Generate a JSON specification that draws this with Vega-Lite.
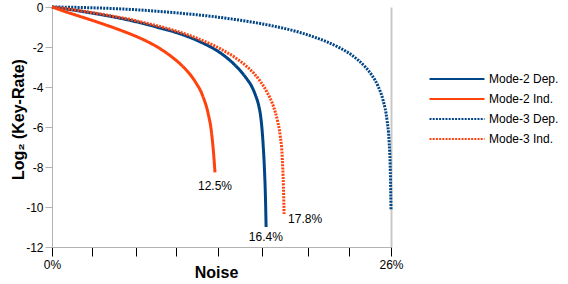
{
  "$schema": "https://vega.github.io/schema/vega-lite/v6.json",
  "width": 339,
  "height": 240,
  "autosize": {"type": "none"},
  "padding": {"left": 52, "top": 7, "right": 177, "bottom": 37},
  "background": "white",
  "config": {
    "font": "Liberation Sans",
    "view": {"stroke": null},
    "axis": {"labelFont": "Liberation Sans", "titleFont": "Liberation Sans"}
  },
  "datasets": {
    "curves": [
      {"series": "Mode-2 Dep.", "x": 0, "y": 0},
      {"series": "Mode-2 Dep.", "x": 2, "y": -0.19},
      {"series": "Mode-2 Dep.", "x": 4, "y": -0.41},
      {"series": "Mode-2 Dep.", "x": 6, "y": -0.67},
      {"series": "Mode-2 Dep.", "x": 8, "y": -1.0},
      {"series": "Mode-2 Dep.", "x": 10, "y": -1.38},
      {"series": "Mode-2 Dep.", "x": 11.36, "y": -1.74},
      {"series": "Mode-2 Dep.", "x": 12.9, "y": -2.29},
      {"series": "Mode-2 Dep.", "x": 13.9, "y": -2.82},
      {"series": "Mode-2 Dep.", "x": 14.9, "y": -3.56},
      {"series": "Mode-2 Dep.", "x": 15.3, "y": -3.95},
      {"series": "Mode-2 Dep.", "x": 15.6, "y": -4.4},
      {"series": "Mode-2 Dep.", "x": 15.85, "y": -4.92},
      {"series": "Mode-2 Dep.", "x": 16.0, "y": -5.45},
      {"series": "Mode-2 Dep.", "x": 16.1, "y": -6.05},
      {"series": "Mode-2 Dep.", "x": 16.2, "y": -6.95},
      {"series": "Mode-2 Dep.", "x": 16.3, "y": -8.2},
      {"series": "Mode-2 Dep.", "x": 16.37, "y": -9.5},
      {"series": "Mode-2 Dep.", "x": 16.42, "y": -11.0},

      {"series": "Mode-2 Ind.", "x": 0, "y": 0},
      {"series": "Mode-2 Ind.", "x": 1, "y": -0.23},
      {"series": "Mode-2 Ind.", "x": 2, "y": -0.44},
      {"series": "Mode-2 Ind.", "x": 3, "y": -0.65},
      {"series": "Mode-2 Ind.", "x": 4, "y": -0.87},
      {"series": "Mode-2 Ind.", "x": 5, "y": -1.1},
      {"series": "Mode-2 Ind.", "x": 6, "y": -1.35},
      {"series": "Mode-2 Ind.", "x": 7, "y": -1.63},
      {"series": "Mode-2 Ind.", "x": 8, "y": -1.97},
      {"series": "Mode-2 Ind.", "x": 9, "y": -2.4},
      {"series": "Mode-2 Ind.", "x": 10, "y": -2.95},
      {"series": "Mode-2 Ind.", "x": 10.5, "y": -3.3},
      {"series": "Mode-2 Ind.", "x": 11, "y": -3.75},
      {"series": "Mode-2 Ind.", "x": 11.5, "y": -4.35},
      {"series": "Mode-2 Ind.", "x": 12, "y": -5.4},
      {"series": "Mode-2 Ind.", "x": 12.2, "y": -6.1},
      {"series": "Mode-2 Ind.", "x": 12.35, "y": -7.0},
      {"series": "Mode-2 Ind.", "x": 12.45, "y": -7.8},
      {"series": "Mode-2 Ind.", "x": 12.5, "y": -8.27},

      {"series": "Mode-3 Dep.", "x": 0, "y": 0},
      {"series": "Mode-3 Dep.", "x": 2, "y": -0.02},
      {"series": "Mode-3 Dep.", "x": 4, "y": -0.06},
      {"series": "Mode-3 Dep.", "x": 6, "y": -0.12},
      {"series": "Mode-3 Dep.", "x": 8, "y": -0.21},
      {"series": "Mode-3 Dep.", "x": 10, "y": -0.32},
      {"series": "Mode-3 Dep.", "x": 12, "y": -0.45},
      {"series": "Mode-3 Dep.", "x": 14, "y": -0.62},
      {"series": "Mode-3 Dep.", "x": 16, "y": -0.83},
      {"series": "Mode-3 Dep.", "x": 18, "y": -1.1},
      {"series": "Mode-3 Dep.", "x": 19, "y": -1.27},
      {"series": "Mode-3 Dep.", "x": 20, "y": -1.48},
      {"series": "Mode-3 Dep.", "x": 21, "y": -1.72},
      {"series": "Mode-3 Dep.", "x": 22, "y": -2.02},
      {"series": "Mode-3 Dep.", "x": 23, "y": -2.41},
      {"series": "Mode-3 Dep.", "x": 24, "y": -2.98},
      {"series": "Mode-3 Dep.", "x": 24.5, "y": -3.38},
      {"series": "Mode-3 Dep.", "x": 25, "y": -3.95},
      {"series": "Mode-3 Dep.", "x": 25.4, "y": -4.68},
      {"series": "Mode-3 Dep.", "x": 25.7, "y": -5.68},
      {"series": "Mode-3 Dep.", "x": 25.85, "y": -6.67},
      {"series": "Mode-3 Dep.", "x": 25.95, "y": -8.26},
      {"series": "Mode-3 Dep.", "x": 26, "y": -10.15},

      {"series": "Mode-3 Ind.", "x": 0, "y": 0},
      {"series": "Mode-3 Ind.", "x": 1, "y": -0.08},
      {"series": "Mode-3 Ind.", "x": 2, "y": -0.17},
      {"series": "Mode-3 Ind.", "x": 3, "y": -0.27},
      {"series": "Mode-3 Ind.", "x": 4, "y": -0.38},
      {"series": "Mode-3 Ind.", "x": 5, "y": -0.5},
      {"series": "Mode-3 Ind.", "x": 6, "y": -0.62},
      {"series": "Mode-3 Ind.", "x": 7, "y": -0.77},
      {"series": "Mode-3 Ind.", "x": 8, "y": -0.93},
      {"series": "Mode-3 Ind.", "x": 9, "y": -1.1},
      {"series": "Mode-3 Ind.", "x": 10, "y": -1.3},
      {"series": "Mode-3 Ind.", "x": 11, "y": -1.53},
      {"series": "Mode-3 Ind.", "x": 12, "y": -1.8},
      {"series": "Mode-3 Ind.", "x": 13, "y": -2.12},
      {"series": "Mode-3 Ind.", "x": 14, "y": -2.51},
      {"series": "Mode-3 Ind.", "x": 15, "y": -3.01},
      {"series": "Mode-3 Ind.", "x": 15.5, "y": -3.33},
      {"series": "Mode-3 Ind.", "x": 16, "y": -3.74},
      {"series": "Mode-3 Ind.", "x": 16.5, "y": -4.27},
      {"series": "Mode-3 Ind.", "x": 17, "y": -5.0},
      {"series": "Mode-3 Ind.", "x": 17.3, "y": -5.7},
      {"series": "Mode-3 Ind.", "x": 17.5, "y": -6.42},
      {"series": "Mode-3 Ind.", "x": 17.65, "y": -7.43},
      {"series": "Mode-3 Ind.", "x": 17.75, "y": -9.0},
      {"series": "Mode-3 Ind.", "x": 17.8, "y": -10.35}
    ],
    "ends": [
      {"label": "12.5%", "x": 12.5, "y": -8.27},
      {"label": "16.4%", "x": 16.4, "y": -11.0},
      {"label": "17.8%", "x": 17.8, "y": -10.35}
    ]
  },
  "encoding": {
    "x": {
      "field": "x",
      "type": "quantitative",
      "title": "Noise",
      "scale": {"domain": [0, 26], "nice": false, "zero": false},
      "axis": {
        "values": [0, 3.1, 6.45, 9.5, 12.75, 16.1, 19.6, 22.8, 26],
        "labelExpr": "datum.value == 0 ? '0%' : (datum.value == 26 ? '26%' : '')",
        "labelFlush": false,
        "labelOverlap": false,
        "labelFontSize": 12,
        "labelColor": "black",
        "labelPadding": 3,
        "tickColor": "black",
        "tickSize": 9,
        "domainColor": "#b3b3b3",
        "grid": true,
        "gridColor": "#c8c8c8",
        "gridWidth": 2,
        "gridOpacity": {"condition": {"test": "datum.value == 26", "value": 1}, "value": 0},
        "titleFontSize": 16,
        "titleFontWeight": "bold",
        "titleColor": "black",
        "titleBaseline": "alphabetic",
        "titleX": 164,
        "titleY": 30
      }
    },
    "y": {
      "field": "y",
      "type": "quantitative",
      "title": "Log₂ (Key-Rate)",
      "scale": {"domain": [-12, 0], "nice": false},
      "axis": {
        "values": [0, -2, -4, -6, -8, -10, -12],
        "labelExpr": "datum.value + ''",
        "grid": false,
        "labelFontSize": 12,
        "labelColor": "black",
        "labelPadding": 2,
        "tickColor": "#b3b3b3",
        "tickSize": 7,
        "domainColor": "#b3b3b3",
        "titleFontSize": 16,
        "titleFontWeight": "bold",
        "titleColor": "black",
        "titleAngle": -90,
        "titleAlign": "center",
        "titleBaseline": "alphabetic",
        "titleX": -29,
        "titleY": 112
      }
    }
  },
  "layer": [
    {
      "data": {"name": "curves"},
      "mark": {"type": "line", "interpolate": "monotone", "strokeWidth": 3},
      "encoding": {
        "color": {
          "field": "series",
          "type": "nominal",
          "scale": {
            "domain": ["Mode-2 Dep.", "Mode-2 Ind.", "Mode-3 Dep.", "Mode-3 Ind."],
            "range": ["#004586", "#ff420e", "#004586", "#ff420e"]
          },
          "legend": {
            "title": null,
            "orient": "none",
            "legendX": 399,
            "legendY": 66,
            "symbolType": "M-5.5,0H5.5",
            "symbolSize": 100,
            "symbolStrokeWidth": 2,
            "labelFontSize": 12,
            "labelColor": "black",
            "labelOffset": 26,
            "rowPadding": 8,
            "padding": 0
          }
        },
        "strokeDash": {
          "field": "series",
          "type": "nominal",
          "scale": {
            "domain": ["Mode-2 Dep.", "Mode-2 Ind.", "Mode-3 Dep.", "Mode-3 Ind."],
            "range": [[1, 0], [1, 0], [2, 1.2], [2, 1.2]]
          },
          "legend": {
            "title": null,
            "orient": "none",
            "legendX": 399,
            "legendY": 66,
            "symbolType": "M-5.5,0H5.5",
            "symbolSize": 100,
            "symbolStrokeWidth": 2,
            "labelFontSize": 12,
            "labelColor": "black",
            "labelOffset": 26,
            "rowPadding": 8,
            "padding": 0
          }
        }
      }
    },
    {
      "data": {"name": "ends"},
      "transform": [{"filter": "datum.label == '12.5%'"}],
      "mark": {"type": "text", "fontSize": 12, "color": "black", "align": "center", "baseline": "middle", "dy": 14},
      "encoding": {"text": {"field": "label"}}
    },
    {
      "data": {"name": "ends"},
      "transform": [{"filter": "datum.label == '16.4%'"}],
      "mark": {"type": "text", "fontSize": 12, "color": "black", "align": "center", "baseline": "middle", "dy": 10},
      "encoding": {"text": {"field": "label"}}
    },
    {
      "data": {"name": "ends"},
      "transform": [{"filter": "datum.label == '17.8%'"}],
      "mark": {"type": "text", "fontSize": 12, "color": "black", "align": "left", "baseline": "middle", "dx": 4, "dy": 5},
      "encoding": {"text": {"field": "label"}}
    }
  ]
}
